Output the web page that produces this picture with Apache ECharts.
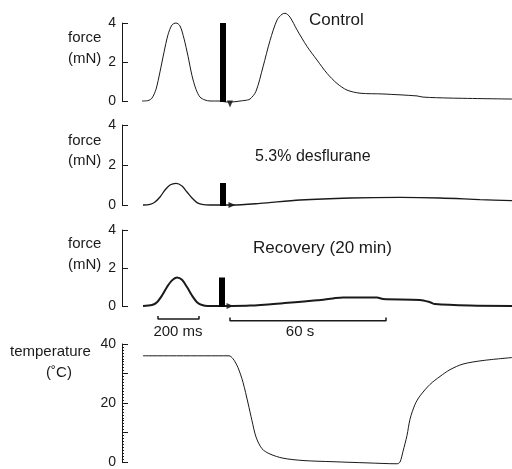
<!DOCTYPE html>
<html>
<head>
<meta charset="utf-8">
<script src="https://cdn.jsdelivr.net/npm/echarts@6/dist/echarts.min.js"></script>
<style>
  html, body { margin: 0; padding: 0; background: #fff; }
  #chart { width: 512px; height: 469px; }
</style>
</head>
<body>
<div id="chart"></div>
<script>
// trace position along the record (arbitrary units, left of axis = 0), value
const controlTrace = [
  [20, 0], [26, 0.02], [30, 0.15], [34, 0.6], [38, 1.5], [42, 2.5], [46, 3.4], [50, 3.9],
  [54, 4.0], [58, 3.85], [62, 3.2], [66, 2.3], [70, 1.3], [74, 0.6], [78, 0.2], [83, 0.05],
  [88, 0], [97, 0], [104, -0.05], [110, -0.05], [118, 0], [123, 0.03], [128, 0.1], [134, 0.5],
  [141, 1.75], [148, 3.1], [155, 4.15], [160, 4.45], [163, 4.5], [168, 4.3], [175, 3.65],
  [185, 2.8], [195, 2.1], [205, 1.42], [215, 0.9], [225, 0.56], [238, 0.4], [261, 0.36],
  [295, 0.26], [301, 0.2], [328, 0.15], [390, 0.1]
]
const desfluraneTrace = [
  [21, 0], [28, 0.03], [33, 0.15], [38, 0.4], [43, 0.75], [48, 1.0], [54, 1.08], [60, 0.95],
  [65, 0.65], [70, 0.35], [75, 0.12], [80, 0.03], [88, 0], [110, 0], [138, 0.08], [178, 0.25],
  [228, 0.35], [278, 0.38], [318, 0.35], [358, 0.27], [390, 0.22]
]
const recoveryTrace = [
  [21, 0], [30, 0.05], [35, 0.2], [40, 0.55], [45, 1.0], [50, 1.35], [55, 1.5], [60, 1.38],
  [65, 1.0], [70, 0.55], [75, 0.2], [80, 0.05], [86, 0], [110, 0], [128, 0.02], [161, 0.15],
  [195, 0.3], [211, 0.4], [221, 0.45], [255, 0.45], [261, 0.37], [298, 0.32], [308, 0.2],
  [313, 0.1], [348, 0.02], [390, 0]
]
const temperatureTrace = [
  [21, 36], [107, 36], [111, 35], [116, 32], [121, 27], [126, 20], [130, 14], [134, 8.5],
  [140, 4.5], [148, 2.7], [161, 1.3], [181, 0.5], [211, 0.1], [245, -0.3], [275, -0.6],
  [278, 0], [281, 3.6], [285, 9], [288, 14.5], [293, 19.5], [298, 22.4], [308, 26.3],
  [318, 29], [328, 31.3], [341, 33.2], [361, 34.4], [390, 35.4]
]

// stimulus artefact (position, height) for each force panel
const stimPos = [101, 101, 100]
const stimTop = [4.0, 1.1, 1.5]
const arrowPos = [[108, -0.15], [110, 0], [108, 0]]

// calibration bars drawn under the recovery trace
const bar200ms = [[36, -0.52], [36, -0.68], [77, -0.68], [77, -0.52]]
const bar60s = [[108, -0.6], [108, -0.78], [264, -0.78], [264, -0.6]]

const panelTitles = ['Control', '5.3% desflurane', 'Recovery (20 min)']

const ink = '#1a1a1a'
const font = 'Liberation Sans, Arial, sans-serif'

const grids = [
  { left: 122, width: 390, top: 23, height: 78 },
  { left: 122, width: 390, top: 125, height: 80 },
  { left: 122, width: 390, top: 230, height: 76 },
  { left: 122, width: 390, top: 344, height: 120 }
]

const xAxes = grids.map((g, i) => ({
  type: 'value', gridIndex: i, min: 0, max: 390, show: false
}))

function forceAxis(i) {
  return {
    type: 'value', gridIndex: i, min: 0, max: 4, interval: 2,
    axisLine: { show: true, lineStyle: { color: ink, width: 1 } },
    axisTick: { show: true, inside: true, length: 6, lineStyle: { color: ink } },
    axisLabel: { color: ink, fontSize: 14, fontFamily: font, margin: 6 },
    splitLine: { show: false }
  }
}

const yAxes = [
  forceAxis(0), forceAxis(1), forceAxis(2),
  {
    type: 'value', gridIndex: 3, min: 0, max: 40, interval: 10,
    axisLine: { show: true, lineStyle: { color: ink, width: 1 } },
    axisTick: { show: true, inside: true, length: 6, lineStyle: { color: ink } },
    minorTick: { show: true, splitNumber: 10, length: 2, lineStyle: { color: ink } },
    axisLabel: {
      color: ink, fontSize: 14, fontFamily: font, margin: 6,
      formatter: v => (v % 20 === 0 ? String(v) : '')
    },
    splitLine: { show: false }
  }
]

function trace(data, i, width) {
  return {
    type: 'line', xAxisIndex: i, yAxisIndex: i, data: data,
    showSymbol: false, smooth: 0.3, clip: false, silent: true,
    lineStyle: { color: ink, width: width }
  }
}

const series = [
  trace(controlTrace, 0, 1),
  trace(desfluraneTrace, 1, 1.3),
  trace(recoveryTrace, 2, 2),
  trace(temperatureTrace, 3, 1)
]

stimPos.forEach((p, i) => {
  series.push({
    type: 'line', xAxisIndex: i, yAxisIndex: i,
    data: [[p, -0.05], [p, stimTop[i]]],
    showSymbol: false, clip: false, silent: true,
    lineStyle: { color: '#000', width: 6 }
  })
  series.push({
    type: 'scatter', xAxisIndex: i, yAxisIndex: i,
    data: [arrowPos[i]], symbol: 'triangle', symbolSize: [6, 7],
    symbolRotate: i === 0 ? 180 : -90, clip: false, silent: true,
    itemStyle: { color: '#000' }
  })
})

;[bar200ms, bar60s].forEach(b => {
  series.push({
    type: 'line', xAxisIndex: 2, yAxisIndex: 2, data: b,
    showSymbol: false, clip: false, silent: true,
    lineStyle: { color: ink, width: 1.5 }
  })
})

function label(text, x, y, size, align) {
  return {
    type: 'text', x: x, y: y, silent: true,
    style: {
      text: text, fill: ink, font: size + 'px ' + font,
      align: align || 'left', verticalAlign: 'middle'
    }
  }
}

const graphic = [
  label('force', 68, 38, 15), label('(mN)', 68, 59, 15),
  label('force', 68, 141, 15), label('(mN)', 68, 161, 15),
  label('force', 68, 244, 15), label('(mN)', 68, 265, 15),
  label('temperature', 10, 352, 15), label('(˚C)', 59, 373, 15, 'center'),
  label(panelTitles[0], 309, 20, 17),
  label(panelTitles[1], 255, 157, 16),
  label(panelTitles[2], 253, 248, 17),
  label('200 ms', 178, 332, 15, 'center'),
  label('60 s', 300, 332, 15, 'center')
]

const chart = echarts.init(document.getElementById('chart'))
chart.setOption({
  animation: false,
  backgroundColor: '#fff',
  grid: grids,
  xAxis: xAxes,
  yAxis: yAxes,
  series: series,
  graphic: graphic
})
</script>
</body>
</html>
